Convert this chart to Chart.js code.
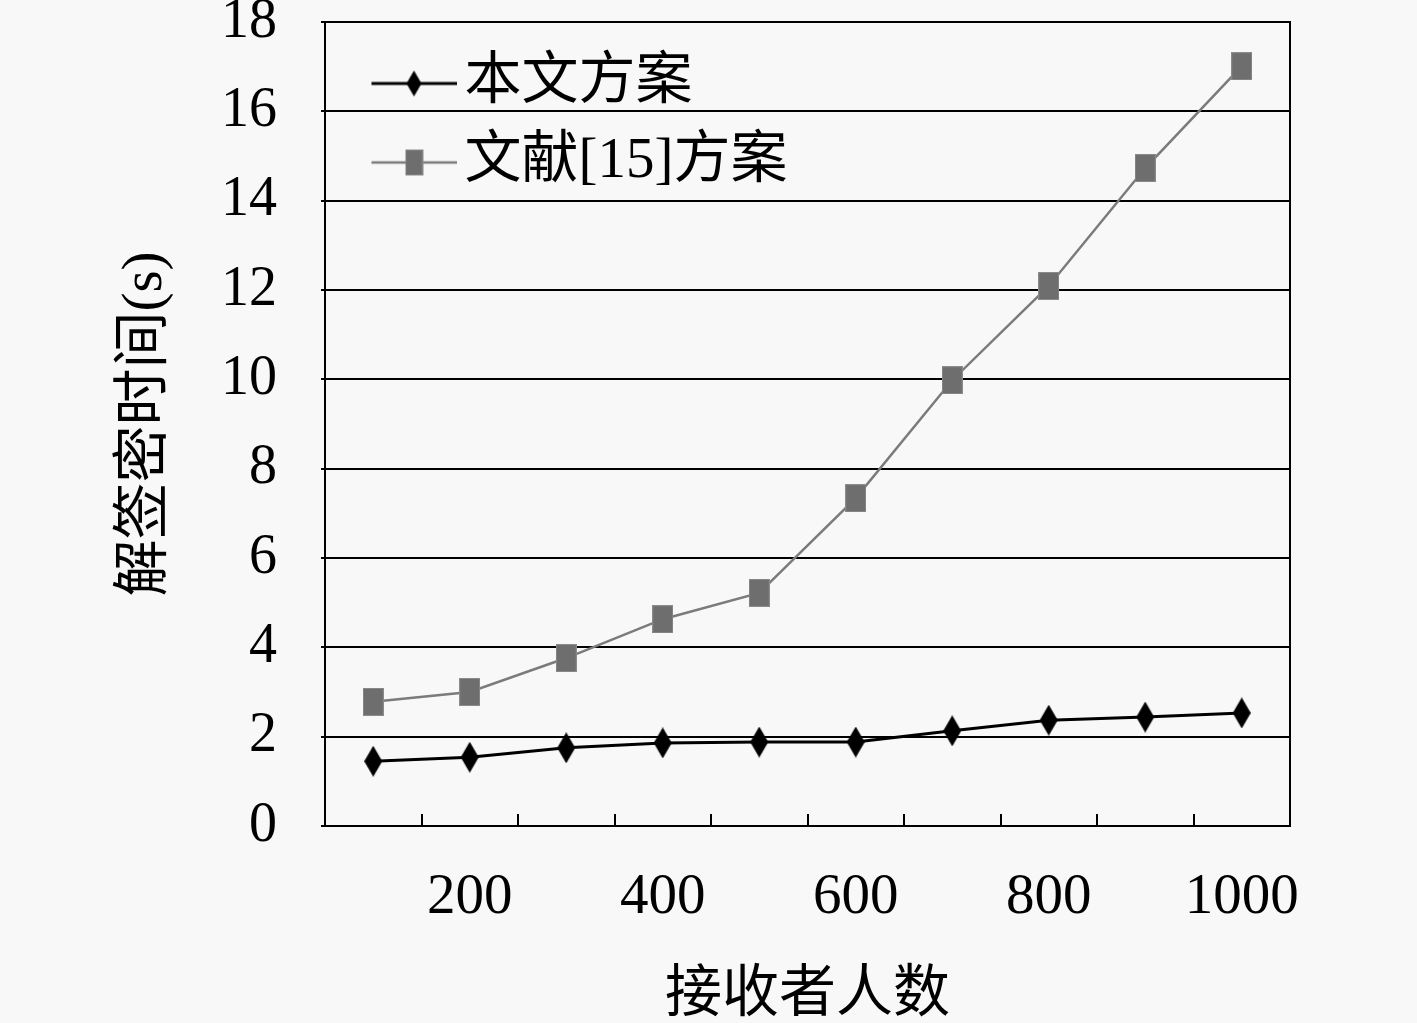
<!DOCTYPE html>
<html><head><meta charset="utf-8">
<script src="https://cdn.jsdelivr.net/npm/chart.js@4/dist/chart.umd.min.js"></script>
<style>html,body{margin:0;padding:0;background:#f8f8f8;overflow:hidden;}#wrap{width:1417px;height:1023px;}</style>
</head><body><div id="wrap"><canvas id="c" width="1417" height="1023"></canvas></div>
<script>
const categories = ['100','200','300','400','500','600','700','800','900','1000'];
const oursValues = [1.45, 1.54, 1.75, 1.86, 1.88, 1.88, 2.13, 2.37, 2.44, 2.53];
const refValues = [2.78, 3.00, 3.76, 4.63, 5.22, 7.34, 9.98, 12.09, 14.73, 17.01];
const seriesNames = ['本文方案', '文献[15]方案'];
const shownXLabels = ['200','400','600','800','1000'];
const yTickValues = [0,2,4,6,8,10,12,14,16,18];
const xTitle = '接收者人数';
const yTitle = '解签密时间(s)';

const FONT = "'Liberation Serif', 'Noto Sans CJK SC', serif";
const BLACK = '#000000';
const GRAY_LINE = '#7b7b7b';
const GRAY_FILL = '#6e6e6e';

function diamondCanvas(w, h, color) {
  const c = document.createElement('canvas'); c.width = w; c.height = h;
  const g = c.getContext('2d'); g.fillStyle = color;
  g.beginPath(); g.moveTo(w/2, 0); g.lineTo(w, h/2); g.lineTo(w/2, h); g.lineTo(0, h/2); g.closePath(); g.fill();
  return c;
}
function rectCanvas(w, h, color) {
  const c = document.createElement('canvas'); c.width = w; c.height = h;
  const g = c.getContext('2d'); g.fillStyle = color; g.fillRect(0, 0, w, h);
  g.strokeStyle = '#8a8a8a'; g.lineWidth = 1; g.strokeRect(0.5, 0.5, w-1, h-1);
  return c;
}
function legendCanvas(marker, lineColor, lineW) {
  const C = 130, H = 32, off = 45;
  const c = document.createElement('canvas'); c.width = C; c.height = H;
  const g = c.getContext('2d');
  g.strokeStyle = lineColor; g.lineWidth = lineW;
  g.beginPath(); g.moveTo(off, H/2); g.lineTo(C, H/2); g.stroke();
  const mx = (off + C) / 2;
  g.drawImage(marker, mx - marker.width/2, H/2 - marker.height/2);
  return c;
}
const diamond = diamondCanvas(18, 31, BLACK);
const square = rectCanvas(21, 28, GRAY_FILL);
const legDiamond = legendCanvas(diamondCanvas(15, 26, BLACK), BLACK, 3);
const legSquare = legendCanvas(rectCanvas(18, 26, GRAY_FILL), GRAY_LINE, 2.5);

new Chart(document.getElementById('c'), {
  type: 'line',
  data: {
    labels: categories,
    datasets: [
      { label: seriesNames[0], data: oursValues, borderColor: BLACK, borderWidth: 3, pointStyle: diamond, pointRadius: 10, pointHoverRadius: 10, fill: false, tension: 0 },
      { label: seriesNames[1], data: refValues, borderColor: GRAY_LINE, borderWidth: 2.5, pointStyle: square, pointRadius: 10, pointHoverRadius: 10, fill: false, tension: 0 }
    ]
  },
  options: {
    responsive: false, animation: false, devicePixelRatio: 1,
    events: [],
    layout: { padding: { left: 0, top: 22, right: 127, bottom: 0 } },
    plugins: {
      tooltip: { enabled: false },
      legend: {
        position: 'chartArea', align: 'start',
        title: { display: true, text: ' ', font: { size: 10 }, padding: { top: 10, bottom: 11 } },
        labels: {
          usePointStyle: true, pointStyleWidth: 89, padding: 22, color: '#000',
          font: { family: FONT, size: 57 },
          generateLabels: () => [
            { text: seriesNames[0], pointStyle: legDiamond, fillStyle: 'transparent', strokeStyle: 'transparent', lineWidth: 0, fontColor: '#000', datasetIndex: 0 },
            { text: seriesNames[1], pointStyle: legSquare, fillStyle: 'transparent', strokeStyle: 'transparent', lineWidth: 0, fontColor: '#000', datasetIndex: 1 }
          ]
        }
      }
    },
    scales: {
      x: {
        type: 'category', offset: true,
        grid: { display: true, drawOnChartArea: false, drawTicks: true, tickLength: -12, color: BLACK, lineWidth: 2, offset: true },
        border: { display: true, color: BLACK, width: 2 },
        ticks: {
          autoSkip: false, maxRotation: 0, color: '#000', padding: 50,
          font: { family: FONT, size: 57 },
          callback: function(v, i) { const l = categories[i]; return shownXLabels.includes(l) ? l : ''; }
        },
        title: { display: true, text: xTitle, color: '#000', font: { family: FONT, size: 57 }, padding: { top: 0, bottom: -7 } },
        afterFit: s => { s.height = 197; s.paddingLeft = 0; s.paddingRight = 0; }
      },
      y: {
        min: 0, max: 18,
        afterBuildTicks: s => { s.ticks = yTickValues.map(v => ({ value: v })); },
        grid: { color: BLACK, lineWidth: 2, drawTicks: true, tickLength: 4 },
        border: { display: true, color: BLACK, width: 2 },
        ticks: { color: '#000', padding: 44, font: { family: FONT, size: 56 } },
        title: { display: true, text: yTitle, color: '#000', font: { family: FONT, size: 57 }, padding: { top: 112, bottom: 0 } },
        afterFit: s => { s.width = 325; s.paddingTop = 0; s.paddingBottom = 0; }
      },
      y2: {
        position: 'right', min: 0, max: 18,
        ticks: { display: false },
        grid: { display: true, drawOnChartArea: false, drawTicks: false },
        border: { display: true, color: BLACK, width: 2 },
        afterFit: s => { s.width = 0; s.paddingTop = 0; s.paddingBottom = 0; }
      }
    }
  }
});
</script></body></html>
